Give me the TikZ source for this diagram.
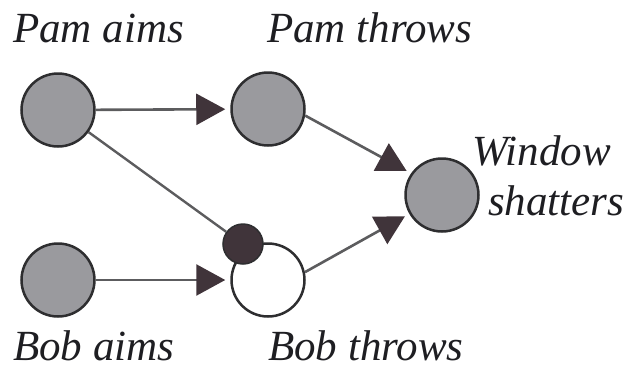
\documentclass[tikz,border=0pt]{standalone}
\usepackage{fontspec}
\setmainfont{Liberation Serif}
\usepackage{tikz}
\usetikzlibrary{arrows.meta}
\definecolor{nodegray}{HTML}{9A9A9E}
\definecolor{outline}{HTML}{2E2E30}
\definecolor{linegray}{HTML}{5C5C5E}
\definecolor{tipdark}{HTML}{40343A}
\definecolor{textdark}{HTML}{1E1E22}
\begin{document}
\begin{tikzpicture}[x=1pt, y=-1pt, shorten >=5pt,
		node_style/.style={circle,draw=outline,line width=2.5pt,fill=nodegray,minimum size=73pt,inner sep=0pt},
		node_style1/.style={circle,draw=outline,line width=2.5pt,fill=white,minimum size=73pt,inner sep=0pt},
		dot_style/.style={circle,draw=outline,line width=1.5pt,fill=tipdark,minimum size=40pt,inner sep=0pt},
		label_style/.style={anchor=base west,inner sep=0pt,text=textdark,font=\fontsize{43}{50}\selectfont\itshape},
		edge_style/.style={draw=linegray,line width=2.6pt,-{Triangle[length=29pt,width=31pt,color=tipdark]}},
		line_style/.style={draw=linegray,line width=2.4pt,shorten >=0pt}]
		
		\useasboundingbox (0,0) rectangle (627,370);
		
		\node[node_style] (pa) at (58,110)  {};
		\node[node_style] (pt) at (268,109)  {};
		\node[node_style] (win) at (442,195)  {};
		\node[node_style] (ba) at (58,280)  {};
		\node[node_style1] (bt) at (268,280)  {};
		\node[dot_style] (dot) at (243,244)  {};
		
		\node[label_style] (lpa) at (13,42)  {Pam aims};
		\node[label_style] (lpt) at (267,42)  {Pam throws};
		\node[label_style] (lwin) at (472,165)  {Window};
		\node[label_style] (lwin2) at (488,215)  {shatters};
		\node[label_style] (lba) at (13,360)  {Bob aims};
		\node[label_style] (lbt) at (268,360)  {Bob throws};
		
		\draw[edge_style]  (pa) -- (pt);
		\draw[edge_style]  (ba) -- (bt);
		\draw[edge_style]  (pt.-10) -- (win.145);
		\draw[edge_style]  (bt.12) -- (win.210);
		\draw[line_style]  (pa) -- (dot);
		
\end{tikzpicture}
\end{document}
